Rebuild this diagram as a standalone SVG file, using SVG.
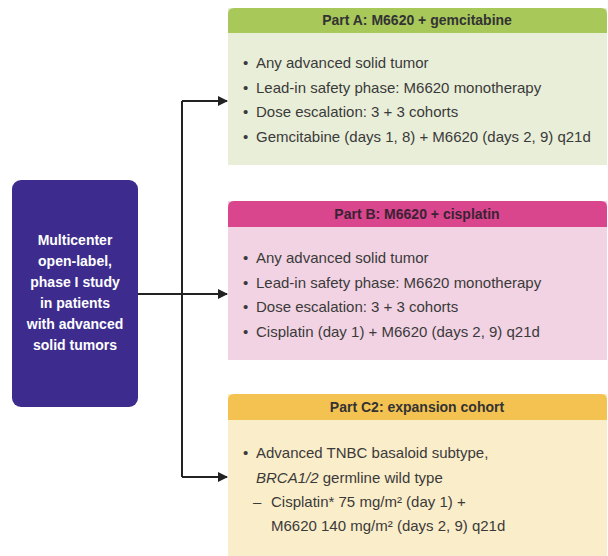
<svg xmlns="http://www.w3.org/2000/svg" width="608" height="556" viewBox="0 0 608 556">
<defs>
<style>
.hdr{font-family:"Liberation Sans",Arial,sans-serif;font-size:14px;font-weight:bold;fill:#333;text-anchor:middle}
.txt{font-family:"Liberation Sans",Arial,sans-serif;font-size:15px;fill:#3a3a3a}
.lead{font-family:"Liberation Sans",Arial,sans-serif;font-size:14px;font-weight:bold;fill:#ffffff;text-anchor:middle}
.conn{stroke:#222;stroke-width:2;fill:none}
</style>
<marker id="arr" markerWidth="10" markerHeight="10" refX="9" refY="5" orient="auto" markerUnits="userSpaceOnUse">
<path d="M0,0 L10,5 L0,10 Z" fill="#222"/>
</marker>
</defs>
<rect width="608" height="556" fill="#ffffff"/>

<g id="study">
<rect x="12" y="180" width="126" height="227" rx="9" fill="#3d2c8d"/>
<text class="lead" x="75" y="245">Multicenter</text>
<text class="lead" x="75" y="266">open-label,</text>
<text class="lead" x="75" y="287">phase I study</text>
<text class="lead" x="75" y="308">in patients</text>
<text class="lead" x="75" y="329">with advanced</text>
<text class="lead" x="75" y="350">solid tumors</text>
</g>

<g id="connectors">
<path class="conn" d="M182,101 L182,477"/>
<path class="conn" d="M182,101 L227,101" marker-end="url(#arr)"/>
<path class="conn" d="M138,294 L227,294" marker-end="url(#arr)"/>
<path class="conn" d="M182,477 L227,477" marker-end="url(#arr)"/>
</g>

<g id="partA">
<rect x="228" y="8" width="379" height="157" fill="#e9eed8"/>
<path d="M228,33 L228,14 Q228,8 234,8 L601,8 Q607,8 607,14 L607,33 Z" fill="#a8c85a"/>
<text class="hdr" x="417" y="25">Part A: M6620 + gemcitabine</text>
<text class="txt" x="243" y="68">•</text><text class="txt" x="256" y="68">Any advanced solid tumor</text>
<text class="txt" x="243" y="93">•</text><text class="txt" x="256" y="93">Lead-in safety phase: M6620 monotherapy</text>
<text class="txt" x="243" y="117">•</text><text class="txt" x="256" y="117">Dose escalation: 3 + 3 cohorts</text>
<text class="txt" x="243" y="142">•</text><text class="txt" x="256" y="142">Gemcitabine (days 1, 8) + M6620 (days 2, 9) q21d</text>
</g>

<g id="partB">
<rect x="228" y="201" width="379" height="159" fill="#f2d3e3"/>
<path d="M228,227 L228,207 Q228,201 234,201 L601,201 Q607,201 607,207 L607,227 Z" fill="#d9468e"/>
<text class="hdr" x="417" y="219" style="fill:#3b2233">Part B: M6620 + cisplatin</text>
<text class="txt" x="243" y="263">•</text><text class="txt" x="256" y="263">Any advanced solid tumor</text>
<text class="txt" x="243" y="288">•</text><text class="txt" x="256" y="288">Lead-in safety phase: M6620 monotherapy</text>
<text class="txt" x="243" y="312">•</text><text class="txt" x="256" y="312">Dose escalation: 3 + 3 cohorts</text>
<text class="txt" x="243" y="337">•</text><text class="txt" x="256" y="337">Cisplatin (day 1) + M6620 (days 2, 9) q21d</text>
</g>

<g id="partC">
<rect x="228" y="394" width="379" height="162" fill="#faedc9"/>
<path d="M228,420 L228,400 Q228,394 234,394 L601,394 Q607,394 607,400 L607,420 Z" fill="#f4c251"/>
<text class="hdr" x="417" y="412">Part C2: expansion cohort</text>
<text class="txt" x="243" y="458">•</text><text class="txt" x="256" y="458">Advanced TNBC basaloid subtype,</text>
<text class="txt" x="256" y="483"><tspan font-style="italic">BRCA1/2</tspan> germline wild type</text>
<text class="txt" x="253" y="507">–</text><text class="txt" x="271" y="507">Cisplatin* 75 mg/m² (day 1) +</text>
<text class="txt" x="271" y="531">M6620 140 mg/m² (days 2, 9) q21d</text>
</g>
</svg>
